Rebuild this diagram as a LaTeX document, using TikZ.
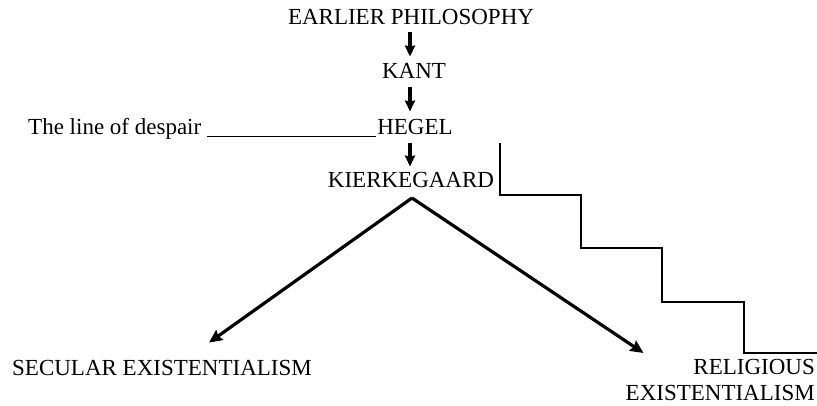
\documentclass[tikz,border=0pt]{standalone}
\usepackage{fontspec}
\setmainfont{Liberation Serif}
\usetikzlibrary{arrows.meta}
\begin{document}
\begin{tikzpicture}[x=1pt,y=-1pt,
  lbl/.style={inner sep=0pt,anchor=base,font=\fontsize{23}{26}\selectfont},
  arr/.style={line width=3.2pt,-{Stealth[length=11pt,width=10pt,inset=1pt]}},
  bigarr/.style={line width=3.2pt,-{Stealth[length=13pt,width=12pt,inset=1.5pt]}},
  thinline/.style={line width=1.5pt}]
\useasboundingbox (0,0) rectangle (817,406);
\node[lbl] (ep) at (411,25) {EARLIER PHILOSOPHY};
\node[lbl] (kant) at (414,79) {KANT};
\node[lbl] (hegel) at (415,135) {HEGEL};
\node[lbl] (kierk) at (411,188) {KIERKEGAARD};
\node[lbl,anchor=base west] (despair) at (28,135) {The line of despair};
\node[lbl,anchor=base west] (secular) at (12,375) {SECULAR EXISTENTIALISM};
\node[lbl,anchor=north east,align=right] (religious) at (815,359) {RELIGIOUS\\EXISTENTIALISM};
% vertical arrows
\draw[arr] ([xshift=-1pt,yshift=-7pt]ep.base) -- ([xshift=-4pt,yshift=7pt]kant.north);
\draw[arr] ([xshift=-4pt,yshift=-8pt]kant.base) -- ([xshift=-5pt,yshift=8pt]hegel.north);
\draw[arr] ([xshift=-5pt,yshift=-8pt]hegel.base) -- ([xshift=-1pt,yshift=6pt]kierk.north);
% line of despair
\draw[thinline] ([xshift=6pt,yshift=-1.5pt]despair.base east) -- ([xshift=-1pt,yshift=-1.5pt]hegel.base west);
% diverging arrows
\coordinate (apex) at ([xshift=1pt,yshift=-10pt]kierk.base);
\draw[bigarr] (apex) -- ([xshift=47pt,yshift=17pt]secular.north);
\draw[bigarr] (apex) -- ([xshift=18pt,yshift=6pt]religious.north west);
% staircase
\draw[thinline] (500,143) |- (581,195) |- (662,248) |- (744,302) |- (817,353);
\end{tikzpicture}
\end{document}
